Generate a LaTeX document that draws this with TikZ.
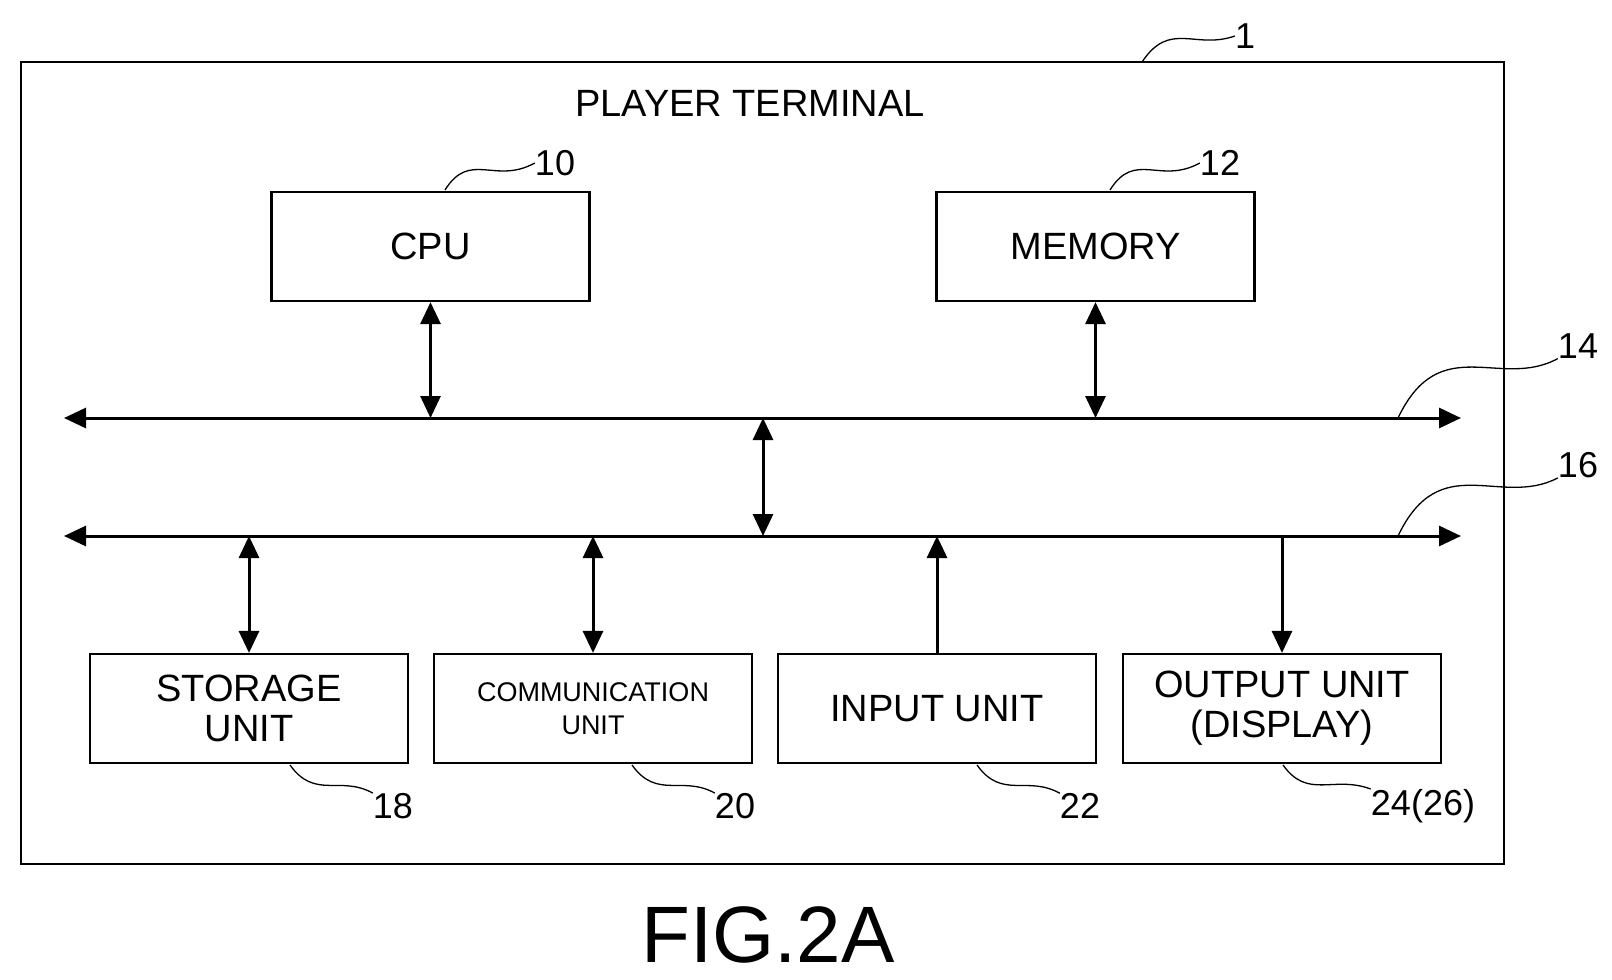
\documentclass[tikz,border=0pt]{standalone}
\usepackage{fontspec}
\setmainfont{Liberation Sans}
\usetikzlibrary{arrows.meta}
\begin{document}
\begin{tikzpicture}[x=1pt,y=-1pt]
  \tikzstyle{unit}=[draw=black, line width=2.2pt, minimum width=318pt, minimum height=109pt, align=center, font=\fontsize{38}{40}\selectfont, inner sep=0pt]
  \tikzstyle{bus}=[line width=3pt, {Triangle[length=22pt,width=20pt]}-{Triangle[length=22pt,width=20pt]}]
  \tikzstyle{link}=[line width=3pt, {Triangle[length=22pt,width=20pt]}-{Triangle[length=22pt,width=20pt]}]
  \tikzstyle{lead}=[line width=1.3pt]
  \tikzstyle{ref}=[font=\fontsize{36}{38}\selectfont, inner sep=0pt]
  \useasboundingbox (0,0) rectangle (1612,980);

  % terminal frame
  \node[draw=black, line width=2.2pt, minimum width=1483pt, minimum height=802pt, inner sep=0pt] (term) at (762.5,463) {};
  \node[font=\fontsize{38}{40}\selectfont] (title) at (750,103) {PLAYER TERMINAL};

  % units
  \node[unit] (cpu) at (430.5,246.5) {CPU};
  \node[unit] (mem) at (1095.5,246.5) {MEMORY};
  \node[unit] (stor) at (249,708.5) {STORAGE\\UNIT};
  \node[unit, font=\fontsize{27}{33}\selectfont] (comm) at (593,708.5) {COMMUNICATION\\UNIT};
  \node[unit] (inp) at (937,708.5) {INPUT UNIT};
  \node[unit] (outp) at (1282,708.5) {OUTPUT UNIT\\(DISPLAY)};

  % buses
  \coordinate (b1l) at (64,418);  \coordinate (b1r) at (1461,418);
  \coordinate (b2l) at (64,536);  \coordinate (b2r) at (1461,536);
  \draw[bus] (b1l) -- (b1r);
  \draw[bus] (b2l) -- (b2r);

  \draw[link] (cpu.south) -- (cpu.south |- b1l);
  \draw[link] (mem.south) -- (mem.south |- b1l);
  \draw[link] (763,418) -- (763,536);
  \draw[link] (stor.north) -- (stor.north |- b2l);
  \draw[link] (comm.north) -- (comm.north |- b2l);
  \draw[line width=3pt, -{Triangle[length=22pt,width=20pt]}] (inp.north) -- (inp.north |- b2l);
  \draw[line width=3pt, -{Triangle[length=22pt,width=20pt]}] (outp.north |- b2l) -- (outp.north);

  % reference numerals
  \node[ref] (r1) at (1245,36) {1};
  \draw[lead] (1142,62) .. controls (1170,20) and (1195,50) .. (r1.west);
  \node[ref] (r10) at (555,163) {10};
  \draw[lead] (445,190) .. controls (470,150) and (495,185) .. (r10.west);
  \node[ref] (r12) at (1220,163) {12};
  \draw[lead] (1110,190) .. controls (1135,150) and (1160,185) .. (r12.west);
  \node[ref] (r14) at (1578,346) {14};
  \draw[lead] (1398,418) .. controls (1440,330) and (1500,390) .. (r14.south west);
  \node[ref] (r16) at (1578,465) {16};
  \draw[lead] (1398,536) .. controls (1440,448) and (1500,508) .. (r16.south west);
  \node[ref] (r18) at (393,806) {18};
  \draw[lead] (290,765) .. controls (315,800) and (340,775) .. (r18.north west);
  \node[ref] (r20) at (735,806) {20};
  \draw[lead] (632,765) .. controls (657,800) and (682,775) .. (r20.north west);
  \node[ref] (r22) at (1080,806) {22};
  \draw[lead] (977,765) .. controls (1002,800) and (1027,775) .. (r22.north west);
  \node[ref] (r24) at (1423,806) {24(26)};
  \draw[lead] (1283,765) .. controls (1308,800) and (1333,775) .. (r24.north west);

  \node[font=\fontsize{80}{84}\selectfont] (fig) at (768,935) {FIG.2A};
\end{tikzpicture}
\end{document}
